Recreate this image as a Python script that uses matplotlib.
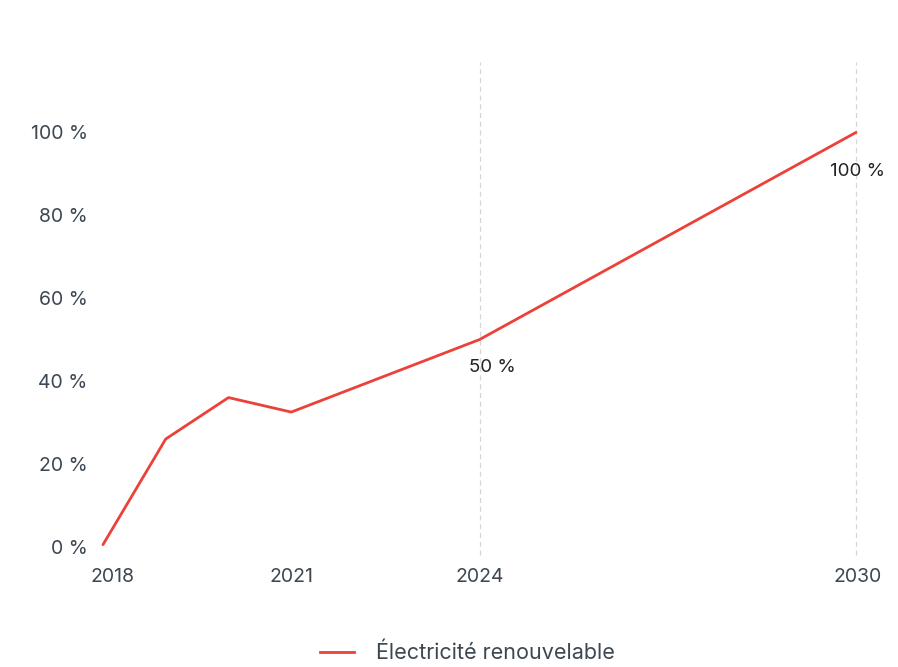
import matplotlib
matplotlib.use("Agg")
import matplotlib.pyplot as plt
from matplotlib.lines import Line2D
from matplotlib.transforms import ScaledTranslation

plt.rcParams['font.family'] = ['Inter', 'DejaVu Sans']

years = [2018, 2019, 2020, 2021, 2024, 2030]
values = [0.5, 26, 36, 32.5, 50, 100]
series_name = "Électricité renouvelable"
x_ticks = [2018, 2021, 2024, 2030]
y_ticks = [0, 20, 40, 60, 80, 100]
annotated_years = [2024, 2030]
annotated_values = [50, 100]

red = "#ec4138"
txt = "#3d4752"

fig = plt.figure(figsize=(8.98, 6.67), dpi=100)
W, H = 898, 667
ax = fig.add_axes([103/W, 1 - 555/H, (856-103)/W, (555-62)/H])
ax.set_xlim(2018, 2030)
ax.set_ylim(-2, 117)

for x in annotated_years:
    ax.axvline(x, color="#d6d6d6", lw=0.9, ls=(0, (4, 3)), zorder=1, clip_on=False)

ax.plot(years, values, color=red, lw=2, zorder=3, solid_capstyle='round', clip_on=False)

offsets = [(9, -20), (1, -28)]
for (x, v), off in zip(zip(annotated_years, annotated_values), offsets):
    ax.annotate(f"{v} %", (x, v), xytext=off, textcoords="offset points",
                ha="center", va="center", fontsize=13.5, color="#222222")

ax.set_xticks(x_ticks)
ax.set_xticklabels([str(t) for t in x_ticks])
ax.set_yticks(y_ticks)
ax.set_yticklabels([f"{t} %" for t in y_ticks])
ax.tick_params(axis='both', length=0, labelsize=14, colors=txt)
ax.tick_params(axis='y', pad=11)
ax.tick_params(axis='x', pad=9)
for s in ax.spines.values():
    s.set_visible(False)

# shift first/last x labels slightly right as in reference
lbl = ax.get_xticklabels()[0]
lbl.set_transform(lbl.get_transform() + ScaledTranslation(10/100, 0, fig.dpi_scale_trans))
lbl2 = ax.get_xticklabels()[-1]
lbl2.set_transform(lbl2.get_transform() + ScaledTranslation(2/100, 0, fig.dpi_scale_trans))

handle = Line2D([0], [0], color=red, lw=2)
fig.legend([handle], [series_name], loc="center", bbox_to_anchor=(467/W, 1 - 653/H),
           frameon=False, fontsize=15.5, labelcolor=txt, handlelength=1.6, handletextpad=1.0)

fig.savefig("out.png", dpi=100)
